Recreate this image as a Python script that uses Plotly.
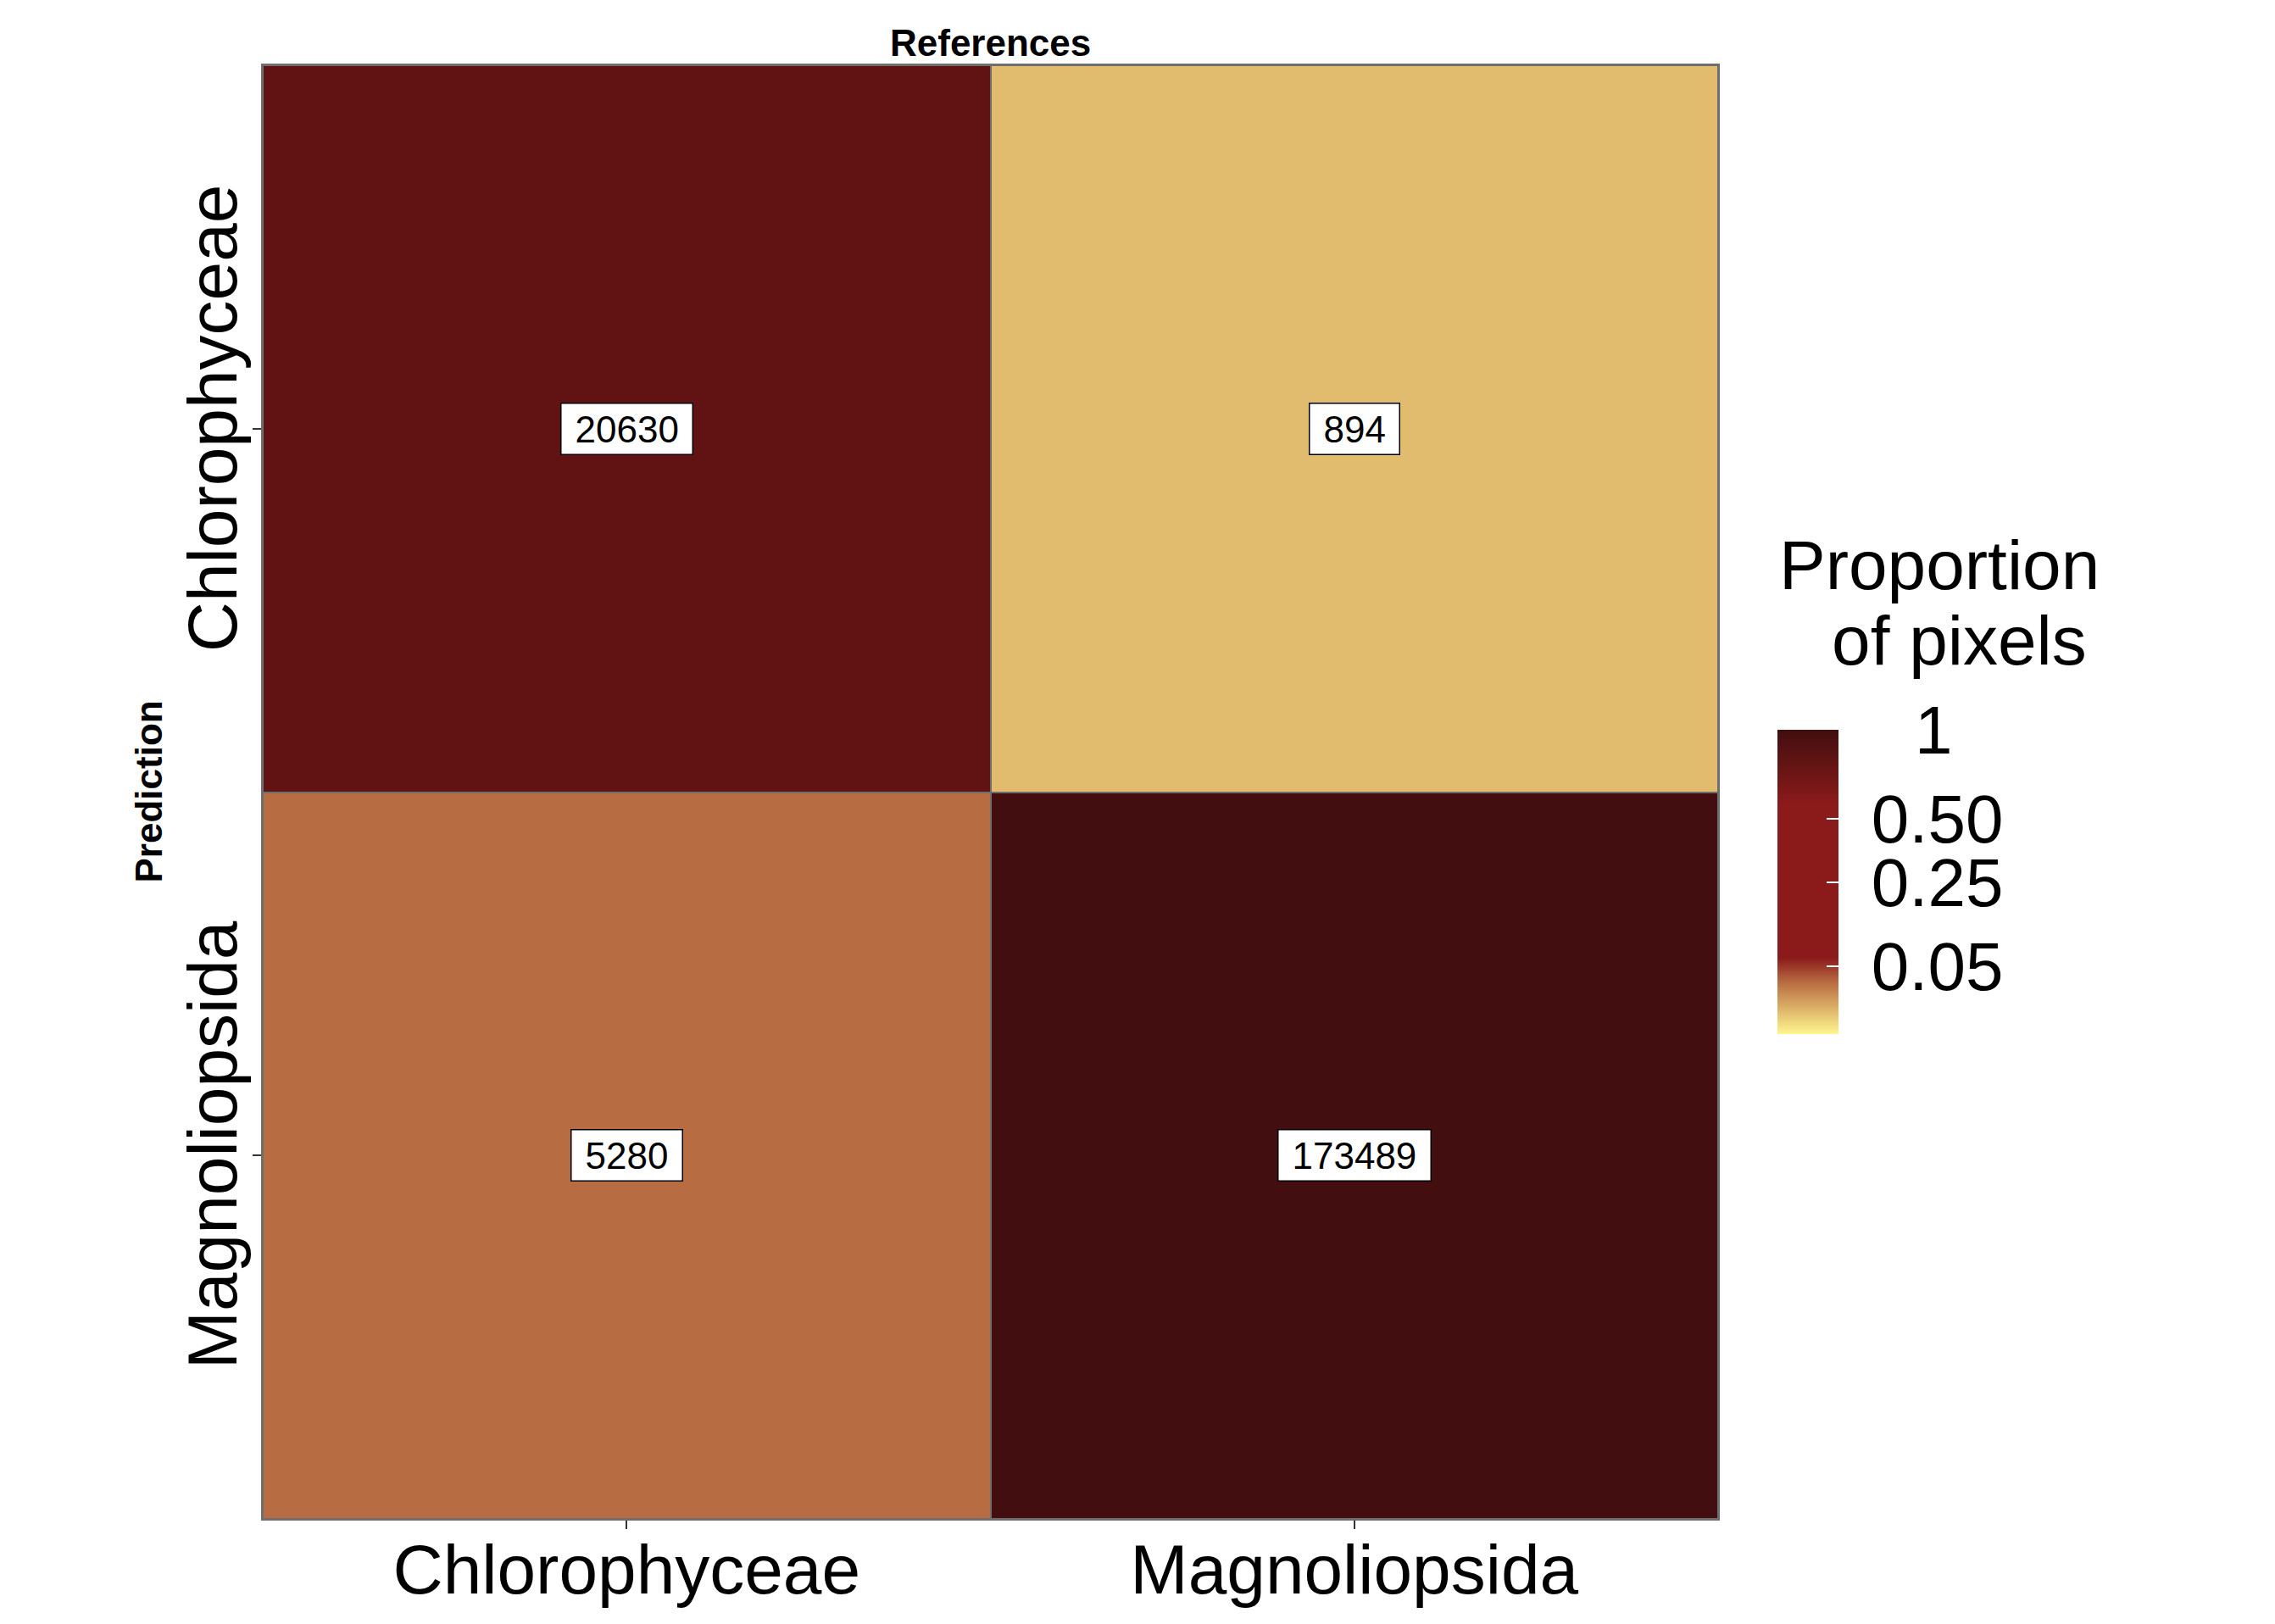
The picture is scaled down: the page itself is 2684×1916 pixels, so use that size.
import plotly.graph_objects as go
import numpy as np

# ---- data ----
references = ["Chlorophyceae", "Magnoliopsida"]          # x categories
predictions = ["Chlorophyceae", "Magnoliopsida"]         # y categories (top to bottom)
counts = [[20630, 894],
          [5280, 173489]]
# proportion of pixels (fill)
proportions = [[0.80, 0.0051],
               [0.029, 0.995]]
cbar_tick_values = [0.05, 0.25, 0.50, 1.0]
cbar_tick_labels = ["0.05", "0.25", "0.50", "1"]

FONT = "Liberation Sans, Arial, Helvetica, sans-serif"
OFF = 8  # default page body margin
W, H = 2684 - OFF, 1916 - OFF
L, R, T, B = 310 - OFF, 2027 - OFF, 77 - OFF, 1792 - OFF
PW, PH = R - L, B - T

def px_x(x):
    return (x - OFF - L) / PW

def px_y(y):
    return 1 - (y - OFF - T) / PH

z = np.sqrt(np.array(proportions))  # sqrt-transformed fill scale

colorscale = [
    [0.00, "#FFF68F"],
    [0.0716, "#E2BC6E"],
    [0.17, "#B86C41"],
    [0.25, "#8B1A1A"],
    [0.755, "#8B1A1A"],
    [1.00, "#420E0F"],
]

ticktext = []
for t in cbar_tick_labels:
    if len(t) == 1:
        ticktext.append("\u2008\u2007\u200a" + t)
    else:
        ticktext.append("\u2008" + t)

fig = go.Figure()
fig.add_trace(go.Heatmap(
    x=references, y=predictions, z=z,
    zmin=0, zmax=1,
    colorscale=colorscale,
    xgap=2, ygap=2,
    hoverinfo="skip",
    colorbar=dict(
        x=px_x(2097), xanchor="left", xref="paper",
        y=px_y((861 + 1220) / 2), yanchor="middle",
        thickness=72, thicknessmode="pixels",
        len=359, lenmode="pixels",
        outlinewidth=0,
        tickvals=list(np.sqrt(cbar_tick_values)),
        ticktext=ticktext,
        ticks="inside", ticklen=14, tickwidth=2, tickcolor="white",
        tickfont=dict(family=FONT, size=80, color="black"),
        xpad=0, ypad=0,
    ),
))

annotations = []
for i, p in enumerate(predictions):
    for j, r in enumerate(references):
        annotations.append(dict(
            x=r, y=p, xref="x", yref="y",
            text="\u2005" + str(counts[i][j]) + "\u2005",
            showarrow=False,
            font=dict(family=FONT, size=44, color="black"),
            bgcolor="white", bordercolor="black", borderwidth=1.5, borderpad=5,
        ))

annotations.append(dict(
    text="<b>References</b>", x=0.5, y=px_y(50),
    xref="paper", yref="paper", showarrow=False,
    xanchor="center", yanchor="middle",
    font=dict(family=FONT, size=44, color="black"),
))
annotations.append(dict(
    text="<b>Prediction</b>", x=px_x(175), y=0.5,
    xref="paper", yref="paper", showarrow=False, textangle=-90,
    xanchor="center", yanchor="middle",
    font=dict(family=FONT, size=44, color="black"),
))
annotations.append(dict(
    text="Proportion", x=px_x(2097), y=px_y(666),
    xref="paper", yref="paper", showarrow=False, align="left",
    xanchor="left", yanchor="middle",
    font=dict(family=FONT, size=82, color="black"),
))
annotations.append(dict(
    text="\u2007\u2009of pixels", x=px_x(2097), y=px_y(755),
    xref="paper", yref="paper", showarrow=False, align="left",
    xanchor="left", yanchor="middle",
    font=dict(family=FONT, size=82, color="black"),
))

fig.update_layout(
    width=W, height=H,
    margin=dict(l=L, r=W - R, t=T, b=H - B, autoexpand=False),
    paper_bgcolor="white",
    plot_bgcolor="#6E6E6E",
    annotations=annotations,
    showlegend=False,
)
fig.update_xaxes(
    type="category", categoryorder="array", categoryarray=references,
    showgrid=False, zeroline=False,
    showline=True, mirror=True, linecolor="#6E6E6E", linewidth=2,
    ticks="outside", ticklen=10, tickwidth=2, tickcolor="#333333",
    ticklabelstandoff=-22,
    tickfont=dict(family=FONT, size=82, color="black"),
)
fig.update_yaxes(
    type="category", categoryorder="array", categoryarray=predictions,
    autorange="reversed",
    showgrid=False, zeroline=False,
    showline=True, mirror=True, linecolor="#6E6E6E", linewidth=2,
    ticks="outside", ticklen=10, tickwidth=2, tickcolor="#333333",
    tickangle=-90, ticklabelstandoff=-14,
    tickfont=dict(family=FONT, size=82, color="black"),
)

fig.write_html("out.html")
